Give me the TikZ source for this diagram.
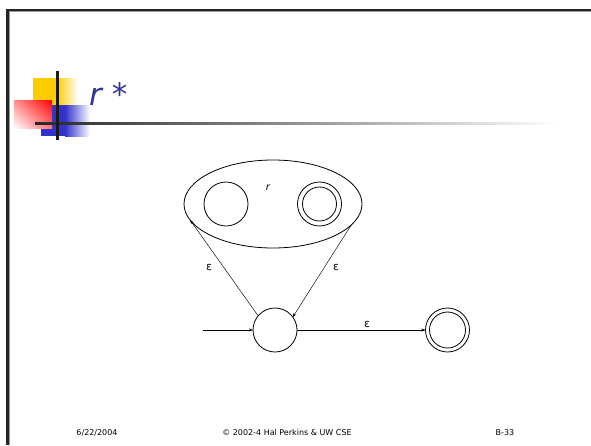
\documentclass[tikz,border=0pt]{standalone}
\usepackage{fontspec}
\setmainfont{DejaVu Sans}
\usetikzlibrary{shapes.geometric,arrows.meta,shadings}
\definecolor{titleblue}{HTML}{333399}
\definecolor{logoyellow}{HTML}{FFCC00}
\definecolor{logoblue}{HTML}{3333CC}
\tikzset{
  state/.style={circle,draw,line width=0.8pt,minimum size=44pt,inner sep=0pt,outer sep=0pt},
  inner ring/.style={line width=0.8pt},
  eps/.style={font=\fontsize{11}{13}\selectfont,inner sep=1pt},
  trans/.style={line width=0.45pt,-{Stealth[length=4pt,width=3pt]}},
  foot/.style={font=\fontsize{8}{10}\selectfont,inner sep=0pt}
}
\begin{document}
\begin{tikzpicture}[x=1pt,y=-1pt]
\useasboundingbox (0,0) rectangle (591,445);
% slide border
\fill[black!85] (6,8.5) rectangle (591,11);
\fill[black!85] (6,8.5) rectangle (8.5,445);
\fill[black!40] (8.5,11) rectangle (591,11.8);
\fill[black!40] (8.5,11) rectangle (9.3,445);
% logo
\fill[logoyellow] (33,78) rectangle (57,105);
\shade[left color=logoyellow,right color=white] (57,78) rectangle (78,105);
\fill[logoblue] (41,105) rectangle (65,136);
\shade[left color=logoblue,right color=white] (65,105) rectangle (90,136);
\shade[upper right=red,upper left=red!45,lower right=red!55,lower left=white] (14,100) rectangle (52,128);
\shade[left color=black!85,right color=white] (35,122) rectangle (560,124.5);
\fill[black!90] (56,71) rectangle (58.5,140);
% title
\node[anchor=base west,inner sep=0pt,text=titleblue,font=\fontsize{31}{36}\itshape] (title) at (89,105) {r *};
% diagram
\node[ellipse,draw,line width=0.8pt,minimum width=178pt,minimum height=88pt,inner sep=0pt,outer sep=0pt] (rbox) at (273,204) {};
\node[state] (q1) at (226,204) {};
\node[state] (q2) at (319.5,204) {};
\draw[inner ring] (q2.center) circle (17pt);
\node[font=\fontsize{10}{12}\itshape,inner sep=0pt] (rlabel) at (268,188) {r};
\node[state] (s) at (275,330) {};
\node[state] (f) at (447.5,330) {};
\draw[inner ring] (f.center) circle (18pt);
\coordinate (init) at (203,330);
\draw[trans] (init) -- (s);
\draw[trans] (s.140) -- (rbox.191);
\draw[trans] (rbox.345) -- (s.36);
\draw[trans] (s) -- (f);
\node[eps] (e1) at (209,267) {ε};
\node[eps] (e2) at (336,267) {ε};
\node[eps] (e3) at (367,324) {ε};
% footer
\node[foot] (date) at (97,433) {6/22/2004};
\node[foot] (copy) at (287,433) {© 2002-4 Hal Perkins \& UW CSE};
\node[foot] (page) at (505,433) {B-33};
\end{tikzpicture}
\end{document}
